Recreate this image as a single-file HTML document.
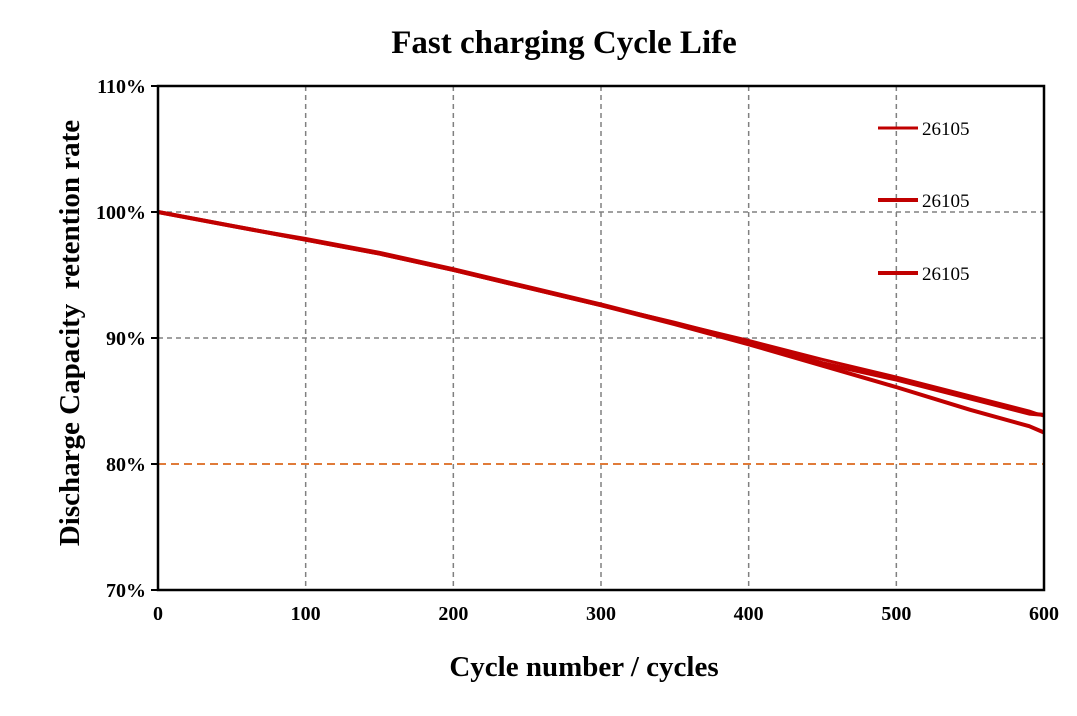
<!DOCTYPE html>
<html><head><meta charset="utf-8"><style>
body{margin:0;background:#fff;}
svg text{font-family:"Liberation Serif",serif;}
</style></head><body>
<svg id="chart" width="1077" height="711" xmlns="http://www.w3.org/2000/svg">
<rect width="1077" height="711" fill="#fff"/>
<text x="564" y="53" text-anchor="middle" font-size="33" font-weight="bold">Fast charging Cycle Life</text>
<text x="584" y="676" text-anchor="middle" font-size="29" font-weight="bold">Cycle number / cycles</text>
<text transform="translate(79,333) rotate(-90)" text-anchor="middle" font-size="29" font-weight="bold" xml:space="preserve">Discharge Capacity  retention rate</text>
<g id="grid"></g><g id="series"></g><g id="axes"></g><g id="legend"></g>
</svg>
<script>
const xTicks=[0,100,200,300,400,500,600];
const yTicks=[70,80,90,100,110];
const cycles=[0,50,100,150,200,250,300,350,400,450,500,550,590,600];
const seriesA=[100,98.9,97.9,96.8,95.5,94.1,92.7,91.2,89.8,88.3,86.9,85.4,84.2,83.8];
const seriesB=[100,98.9,97.8,96.7,95.4,94.0,92.6,91.2,89.7,88.0,86.7,85.2,84.0,83.9];
const seriesC=[100,98.9,97.8,96.7,95.4,94.0,92.6,91.1,89.5,87.8,86.1,84.3,83.0,82.5];
const threshold=80;
const legendLabels=["26105","26105","26105"];
const X0=158,X1=1044,Y0=590,Y1=86;
const xs=v=>X0+(v-0)/600*(X1-X0);
const ys=v=>Y0-(v-70)/40*(Y0-Y1);
const NS="http://www.w3.org/2000/svg";
function mk(tag,attrs,parent){const e=document.createElementNS(NS,tag);for(const k in attrs)e.setAttribute(k,attrs[k]);parent.appendChild(e);return e;}
const grid=document.getElementById('grid'),axes=document.getElementById('axes'),ser=document.getElementById('series'),leg=document.getElementById('legend');
xTicks.forEach(t=>{
 if(t>0&&t<600){const l=mk('line',{x1:xs(t),x2:xs(t),y1:Y1,y2:Y0,stroke:'#808080','stroke-width':1.5,'stroke-dasharray':'5,4'},grid);
 
 }
 const tx=mk('text',{x:xs(t),y:Y0+30,'text-anchor':'middle','font-size':20,'font-weight':'bold'},axes);tx.textContent=t;
 
 
});
yTicks.forEach(t=>{
 if(t>70&&t<110&&t!==threshold){const l=mk('line',{x1:X0,x2:X1,y1:ys(t),y2:ys(t),stroke:'#808080','stroke-width':1.5,'stroke-dasharray':'5,4'},grid);
 
 }
 mk('line',{x1:X0-7,x2:X0,y1:ys(t),y2:ys(t),stroke:'#000','stroke-width':2},axes);
 const tx=mk('text',{x:X0-12,y:ys(t)+7,'text-anchor':'end','font-size':20,'font-weight':'bold'},axes);tx.textContent=t+'%';
 
 
});
const th=mk('line',{x1:X0,x2:X1,y1:ys(threshold),y2:ys(threshold),stroke:'#E07B39','stroke-width':2,'stroke-dasharray':'8,5'},grid);


const fr=mk('rect',{x:X0,y:Y1,width:X1-X0,height:Y0-Y1,fill:'none',stroke:'#000','stroke-width':2.5},axes);


[seriesA,seriesB,seriesC].forEach((s,i)=>{
 const p=mk('polyline',{points:s.map((v,j)=>xs(cycles[j])+','+ys(v)).join(' '),fill:'none',stroke:'#C00000','stroke-width':i===0?3:4,'stroke-linejoin':'round'},ser);
 
 
});
const ly=[128,200,273];
legendLabels.forEach((lab,i)=>{
 const l=mk('line',{x1:878,x2:918,y1:ly[i],y2:ly[i],stroke:'#C00000','stroke-width':i===0?3:4},leg);
 
 
 const t=mk('text',{x:922,y:ly[i]+7,'font-size':19},leg);t.textContent=lab;
 
 
});
</script>
</body></html>
